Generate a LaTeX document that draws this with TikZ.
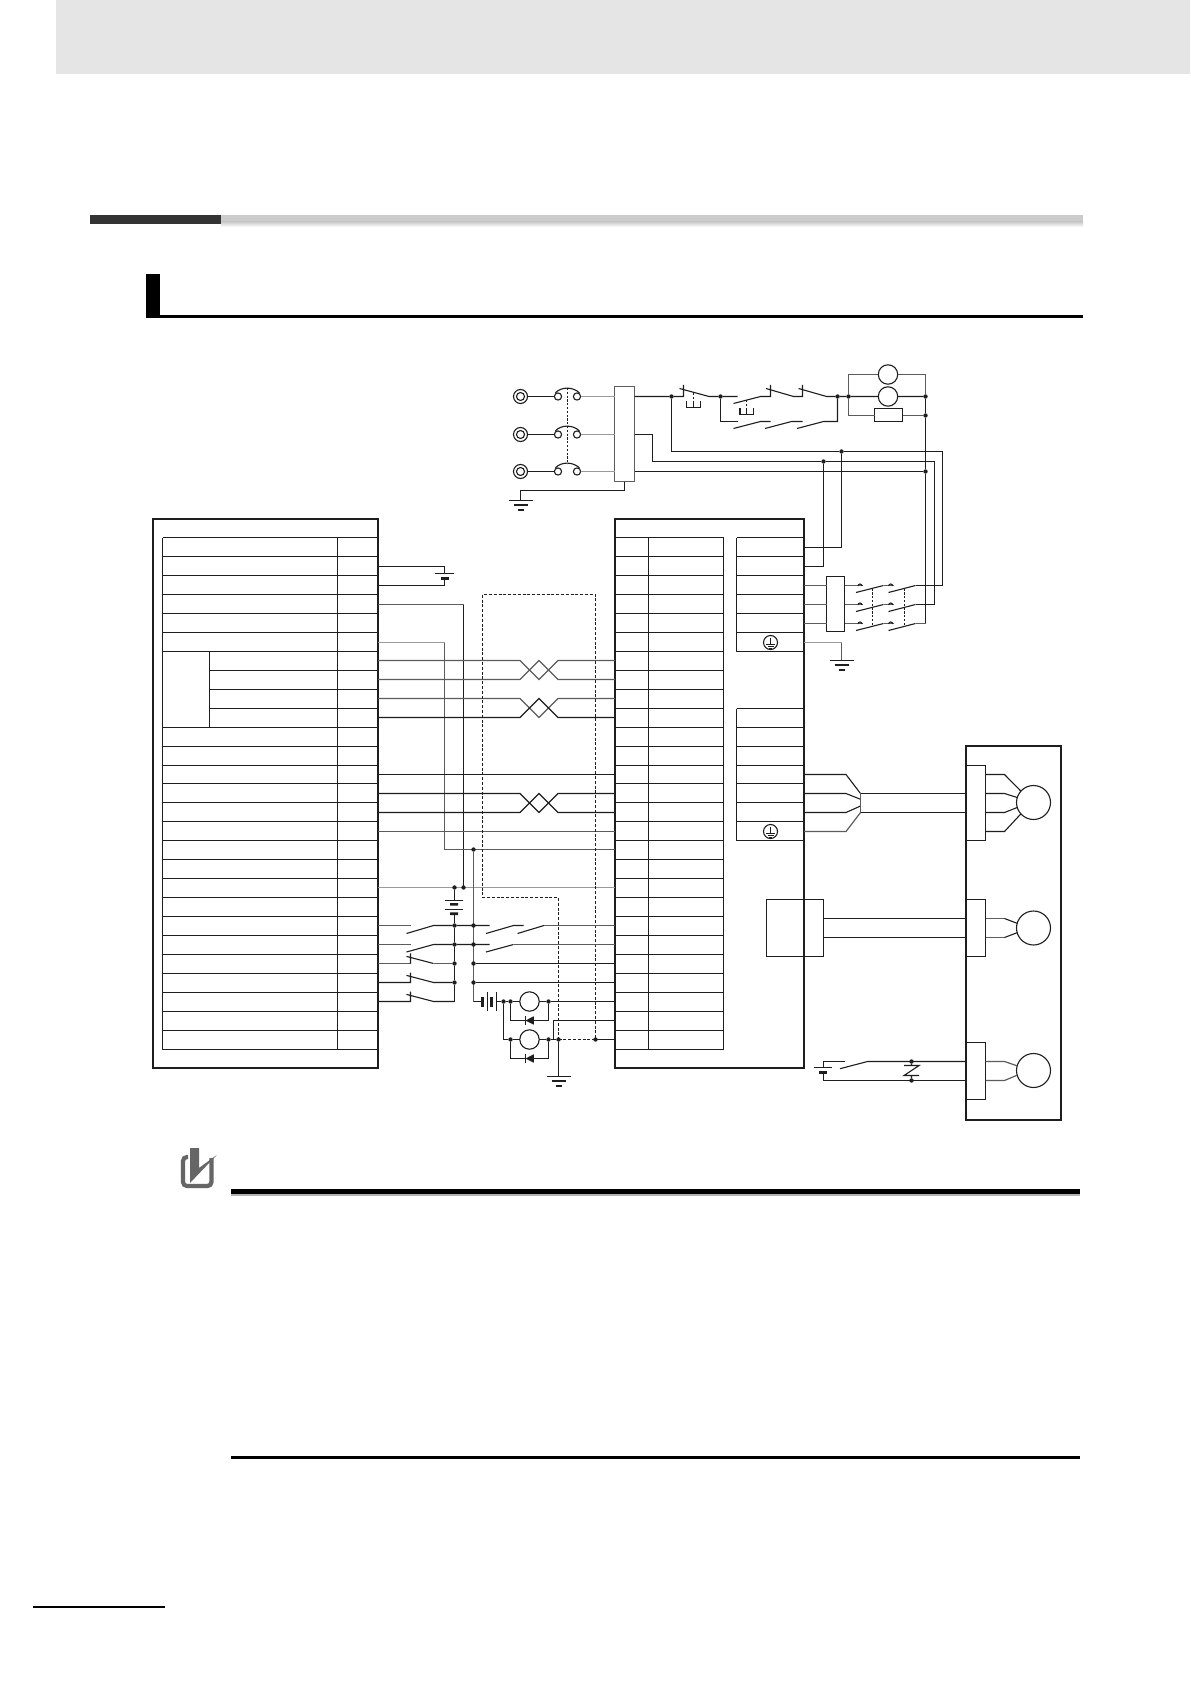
\documentclass[tikz,border=0pt]{standalone}
\usetikzlibrary{calc}
\definecolor{ink}{HTML}{1E1E1E}
\definecolor{greyw}{HTML}{5C5C5C}
\definecolor{greyl}{HTML}{9A9A9A}
\pgfdeclarelayer{fg}
\pgfsetlayers{main,fg}
\tikzset{
  every node/.style={outer sep=0pt},
  wire/.style={line width=0.55pt,draw=ink,line join=miter},
  gw/.style={line width=0.6pt,draw=greyw},
  gl/.style={line width=0.7pt,draw=greyl},
  dashw/.style={line width=0.55pt,draw=ink,dash pattern=on 1.5pt off 0.9pt},
  dashs/.style={line width=0.55pt,draw=ink,dash pattern=on 1.1pt off 0.8pt},
  heavy/.style={line width=1.2pt,draw=ink,inner sep=0pt,anchor=north west},
  tbl/.style={line width=0.55pt,draw=ink},
  dot/.style={circle,fill=ink,inner sep=0pt,minimum size=2.2pt},
  ring/.style={circle,draw=ink,line width=0.55pt,inner sep=0pt,fill=white},
  motor/.style={ring,minimum size=17pt},
  lamp/.style={ring,minimum size=9.7pt},
  bkc/.style={ring,minimum size=3.6pt},
  boxn/.style={draw=ink,line width=0.55pt,fill=white,inner sep=0pt,minimum width=0pt,minimum height=0pt,anchor=north west},
  earthsym/.pic={\draw[wire] (-12,0)--(12,0) (-7,4.5)--(7,4.5) (-3,9.5)--(3,9.5);},
  pesym/.pic={\draw[ink,line width=0.4pt] (0,-5)--(0,1.5) (-4.5,1.5)--(4.5,1.5) (-3,3.5)--(3,3.5) (-1.5,5.5)--(1.5,5.5);},
  diodeL/.pic={\fill[ink] (-4,0)--(4.3,-4.2)--(4.3,4.2)--cycle; \draw[wire] (-4,-4.5)--(-4,4.5);}
}
\begin{document}
\begin{tikzpicture}[x=0.5pt,y=-0.5pt]
\useasboundingbox (0,0) rectangle (1190,1684);
\fill[white] (0,0) rectangle (1190,1684);
% page furniture
\fill[black!10] (56,0) rectangle (1190,74);
\fill[black!80] (90,215) rectangle (221,224);
\fill[black!20] (221,215) rectangle (1083,222);
\shade[top color=black!20,bottom color=white] (221,222) rectangle (1083,227);
\fill[black] (146,274) rectangle (160,318);
\fill[black] (146,315) rectangle (1083,318);
\fill[black] (231,1189) rectangle (1080,1193.5);
\fill[black!30] (231,1194) rectangle (1080,1196);
\fill[black] (231,1456) rectangle (1080,1459);
\fill[black] (32.6,1606) rectangle (164.7,1608);
% icon
\draw[black!60,line width=2.1pt,rounded corners=2pt] (188,1157)--(183,1157)--(183,1186)--(211.5,1186)--(211.5,1158);
\fill[black!60] (190,1148)--(199,1148)--(199,1168)--(216.7,1155)--(190,1183)--cycle;
% rows
\foreach \i/\y in {0/546.5,1/566.5,2/585.5,3/604.5,4/623.5,5/642.5,6/660.5,7/679.5,8/698.5,9/717.5,10/736.5,11/755.5,12/774.5,13/793.5,14/812.5,15/831.5,16/849.5,17/868.5,18/887.5,19/906.5,20/925.5,21/944.5,22/963.5,23/982.5,24/1001.5,25/1020.5,26/1039.5}
 {\coordinate (L\i) at (378,\y); \coordinate (R\i) at (615,\y); \coordinate (S\i) at (804,\y);}
% outer boxes
\node[heavy,minimum width=112.5pt,minimum height=274.5pt] (ctl) at (153,519) {};
\node[heavy,minimum width=94.5pt,minimum height=274.5pt] (drv) at (615,519) {};
\node[heavy,minimum width=47.5pt,minimum height=187pt] (mot) at (966,746) {};
% tables
\foreach \y in {537.5,556.5,575.5,594.5,613.5,632.5,651.5,727.5,746.5,765.5,783.5,802.5,821.5,840.5,859.5,878.5,897.5,916.5,935.5,954.5,973.5,992.5,1011.5,1030.5,1049.5}
  \draw[tbl] (162.5,\y)--(378,\y);
\foreach \y in {670.5,689.5,708.5}
  \draw[tbl] (209.5,\y)--(378,\y);
\draw[tbl] (162.5,537.5)--(162.5,1049.5) (337.5,537.5)--(337.5,1049.5) (209.5,651.5)--(209.5,727.5);
\foreach \y in {537.5,556.5,575.5,594.5,613.5,632.5,651.5,670.5,689.5,708.5,727.5,746.5,765.5,783.5,802.5,821.5,840.5,859.5,878.5,897.5,916.5,935.5,954.5,973.5,992.5,1011.5,1030.5,1049.5}
  \draw[tbl] (615,\y)--(723.5,\y);
\draw[tbl] (648.5,537.5)--(648.5,1049.5) (723.5,537.5)--(723.5,1049.5);
\foreach \y in {537.5,556.5,575.5,594.5,613.5,632.5,651.5,708.5,727.5,746.5,765.5,783.5,802.5,821.5,840.5}
  \draw[tbl] (736.5,\y)--(804,\y);
\draw[tbl] (736.5,537.5)--(736.5,651.5) (736.5,708.5)--(736.5,840.5);
% PE marks
\node[ring,minimum size=7pt] (pe1) at (770.5,642.5) {};
\node[ring,minimum size=7pt] (pe2) at (770.5,831.5) {};
\pic at (770.5,642.5) {pesym};
\pic at (770.5,831.5) {pesym};
% battery on control side
\coordinate (b1t) at (444.5,573.5);
\coordinate (b1b) at (444.5,580);
\draw[wire] (L1)-|(b1t) (L2)-|(b1b);
\draw[wire] (435,573.5)--(454,573.5);
\fill[ink] (441,577)rectangle(449,580);
% long wires
\draw[gw] (L3)--(463.5,604.5);
\draw[wire] (463.5,604.5)--(463.5,887.5);
\draw[gl] (L5)--(444.5,642.5);
\draw[gw] (444.5,642.5)--(444.5,849.5)--(R16);
\draw[gw] (L6)--(520,660.5)--(539,679.5)--(558,660.5)--(R6);
\draw[gw] (L7)--(520,679.5)--(539,660.5)--(558,679.5)--(R7);
\draw[gw] (L8)--(520,698.5)--(539,717.5)--(558,698.5)--(R8);
\draw[wire] (L9)--(520,717.5)--(539,698.5)--(558,717.5)--(R9);
\draw[wire] (L12)--(R12);
\draw[wire] (L13)--(520,793.5)--(539,812.5)--(558,793.5)--(R13);
\draw[wire] (L14)--(520,812.5)--(539,793.5)--(558,812.5)--(R14);
\draw[gw] (L15)--(R15);
\draw[gl] (L18)--(R18);
% dashed shield
\coordinate (sh) at (595.5,1039.5);
\draw[dashw] (558.5,1039.5)--(sh)--(595.5,594.5)--(482.5,594.5)--(482.5,897.5)--(558.5,897.5)--(558.5,1039.5);
\draw[wire] (sh)--(R26);
% junctions on the two rails
\begin{pgfonlayer}{fg}
\node[dot] (ja) at (473.5,849.5) {};
\node[dot] (jb0) at (454.5,887.5) {};
\node[dot] (jb1) at (463.5,887.5) {};
\foreach \n/\y in {20/925.5,21/944.5,22/963.5,23/982.5}{
  \node[dot] (p\n) at (454.5,\y) {};
  \node[dot] (q\n) at (473.5,\y) {};
}
\node[dot] (n1) at (503.5,1001.5) {};
\node[dot] (n2) at (510.5,1001.5) {};
\node[dot] (n3) at (548.5,1001.5) {};
\node[dot] (n4) at (510.5,1039.5) {};
\node[dot] (n5) at (548.5,1039.5) {};
\node[dot] (n6) at (558.5,1039.5) {};
\node[dot] (n7) at (595.5,1039.5) {};
\node[dot] (d1) at (671.5,396.5) {};
\node[dot] (d2) at (720.5,396.5) {};
\node[dot] (d3) at (837.5,396.5) {};
\node[dot] (d4) at (848.5,396.5) {};
\node[dot] (d5) at (925.5,396.5) {};
\node[dot] (d6) at (925.5,415.5) {};
\node[dot] (d7) at (925.5,471.5) {};
\node[dot] (d8) at (841.5,451.5) {};
\node[dot] (d9) at (823.5,461.5) {};
\node[dot] (v1) at (911.5,1061.5) {};
\node[dot] (v2) at (911.5,1080.5) {};
\end{pgfonlayer}
\draw[gw] (ja)--(473.5,1001.5);
\draw[wire] (454.5,913.7)--(p20)--(p21)--(p22)--(p23)--(454.5,1001.5);
\draw[wire] (jb0)--(454.5,900);
\draw[wire] (445,900.5)--(463,900.5) (445,909.5)--(463,909.5);
\fill[ink] (450,903)rectangle(458,905.6) (450,912.4)rectangle(458,915);
% left contacts
\draw[gw] (L20)--(410.5,925.5);
\draw[wire] (406.5,933.5)--(433.5,925.5)--(p20);
\draw[gw] (L21)--(410.5,944.5);
\draw[wire] (406.5,952)--(433.5,944.5)--(p21);
\draw[gw] (L22)--(410.5,963.5);
\draw[wire] (410.5,953.4)--(410.5,963.5) (406.5,956.4)--(433.5,963.5);
\draw[gw] (433.5,963.5)--(p22);
\draw[wire] (L23)--(410.5,982.5)--(410.5,972.5) (406.5,975.4)--(433.5,982.5)--(p23);
\draw[wire] (L24)--(410.5,1001.5)--(410.5,991.5) (406.5,994.4)--(433.5,1001.5)--(454.5,1001.5);
% right contacts
\draw[wire] (p20)--(489.5,925.5) (486,933.5)--(513.5,925.5)--(523.5,925.5) (517.5,933.5)--(544,925.5);
\draw[gw] (544,925.5)--(R20);
\draw[wire] (p21)--(489.5,944.5) (486,952)--(513.5,944.5);
\draw[gw] (513.5,944.5)--(R21);
\draw[wire] (q22)--(R22) (q23)--(R23);
% battery and relays
\node[lamp] (rly1) at (529.5,1001.5) {};
\node[lamp] (rly2) at (529.5,1039.5) {};
\draw[wire] (473.5,1001.5)--(482.5,1001.5);
\draw[line width=1.2pt,ink] (482.5,996.5)--(482.5,1006.5) (491.5,996.5)--(491.5,1006.5);
\draw[wire] (487.5,992)--(487.5,1011) (496.5,992)--(496.5,1011);
\draw[wire] (496.5,1001.5)--(n1)--(n2)--(rly1) (rly1)--(n3)--(R24);
\draw[wire] (n1)|-(n4)--(rly2) (rly2)--(n5)--(n6);
\draw[wire] (553.5,1039.5)|-(R25);
\draw[wire] (n2)|-(548.5,1020.5)--(n3);
\draw[wire] (n4)|-(548.5,1058.5)--(n5);
\pic at (529.5,1020.5) {diodeL};
\pic at (529.5,1058.5) {diodeL};
\draw[wire] (n6)--(558.5,1076.5);
\pic at (558.5,1076.5) {earthsym};
% mains
\foreach \n/\y in {a/396.5,b/434.5,c/471.5}{
  \node[ring,minimum size=7pt] (t\n) at (520.5,\y) {};
  \node[ring,minimum size=4pt] at (520.5,\y) {};
  \node[bkc] (k\n) at (558,\y) {};
  \node[bkc] (m\n) at (577,\y) {};
  \draw[wire] (t\n)--(k\n);
  \draw[wire] (555.3,\y-3.5) .. controls (561,\y-10) and (573,\y-10) .. (579.5,\y-3.5);
}
\draw[dashs] (567.5,388)--(567.5,464);
\node[boxn,draw=greyw,line width=0.75pt,minimum width=10pt,minimum height=47.5pt] (nf) at (614.5,386.5) {};
\coordinate (nfa) at (634.5,396.5); \coordinate (nfb) at (634.5,434.5); \coordinate (nfc) at (634.5,471.5);
\draw[gl] (ma)--(614.5,396.5) (mb)--(614.5,434.5) (mc)--(614.5,471.5);
\coordinate (g1) at (520.5,500.5);
\draw[wire] (624.5,481.5)--(624.5,490.5)-|(g1);
\pic at (g1) {earthsym};
% contactor chain
\node[lamp] (l1) at (888,374.5) {};
\node[lamp] (l2) at (888,396.5) {};
\node[boxn,minimum width=14pt,minimum height=6.5pt] (rs) at (874.5,408.5) {};
\draw[wire] (nfa)--(d1)--(683.5,396.5)--(683.5,385) (679.5,388.5)--(709,396.5)--(d2)--(737.5,396.5);
\draw[dashs] (693.5,393.3)--(693.5,401);
\draw[wire] (693.5,401)--(693.5,407.5) (686.5,401)--(686.5,407.5)--(700.5,407.5)--(700.5,401);
\draw[dashs] (746.5,400)--(746.5,408);
\draw[wire] (746.5,408)--(746.5,414.5) (740,408.3)--(740,414.5)--(753.5,414.5)--(753.5,408.3);
\draw[wire] (733.5,403.5)--(760.5,396.5)--(770.5,396.5)--(770.5,385) (766,388.5)--(793.5,396.5)--(802.5,396.5)--(802.5,385) (798.5,388.5)--(826.5,396.5)--(d3)--(d4)--(l2)--(d5);
\draw[wire] (d2)|-(737.5,421.5);
\draw[wire] (733.5,428.5)--(760.5,421.5)--(770.5,421.5) (765,428.5)--(791.5,421.5)--(802.5,421.5) (797,428.5)--(823.5,421.5)--(837.5,421.5)--(d3);
\draw[gw] (d4)|-(l1) (l1)-|(d5);
\draw[gw] (d4)|-(874.5,415.5) (902.5,415.5)--(d6);
\draw[wire] (d5)--(d6)--(d7)--(925.5,623.5);
% feed lines
\draw[wire] (d1)|-(d8) (d8)-|(942.5,585.5)--(915.5,585.5);
\draw[wire] (nfb)-|(652.5,461.5)--(d9)--(934.5,461.5)--(934.5,604.5)--(915.5,604.5);
\draw[wire] (nfc)--(d7);
\draw[wire] (d8)--(841.5,547.5)--(804,547.5);
\draw[wire] (d9)--(823.5,566.5)--(S1);
% output contactor
\node[boxn,minimum width=9pt,minimum height=27.5pt] (nf2) at (826.5,576.5) {};
\draw[gw] (804,585.5)--(826.5,585.5) (804,604.5)--(826.5,604.5) (804,623.5)--(826.5,623.5);
\foreach \y in {585.5,604.5,623.5}{
  \draw[gw] (844.5,\y)--(862.5,\y);
  \draw[wire] (856,\y+7)--(883.5,\y);
  \draw[gw] (883.5,\y)--(893.5,\y);
  \draw[wire] (888.5,\y+7)--(915.5,\y);
  \draw[wire] (858,\y+0.5) arc[start angle=180,end angle=360,radius=2];
  \draw[wire] (888.7,\y+0.5) arc[start angle=180,end angle=360,radius=2];
}
\draw[gw] (915.5,623.5)--(925.5,623.5);
\draw[dashs] (872.5,588.5)--(872.5,626) (904.5,588.5)--(904.5,626);
\draw[gl] (S5)--(841.5,642.5);
\draw[gw] (841.5,642.5)--(841.5,660.5);
\pic at (841.5,660.5) {earthsym};
% servo motor
\node[boxn,minimum width=9.75pt,minimum height=37.5pt] (cn1) at (966,765.5) {};
\node[boxn,minimum width=9.75pt,minimum height=28.5pt] (cn2) at (966,899.5) {};
\node[boxn,minimum width=9.75pt,minimum height=28.5pt] (cn3) at (966,1042.5) {};
\node[motor] (M1) at (1033.5,802.5) {};
\node[motor] (M2) at (1033.5,928) {};
\node[motor] (M3) at (1033.5,1070.5) {};
\draw[wire] (S12)--(846,774.5)--(860.5,793.5);
\draw[wire] (S13)--(846,793.5)--(860.5,799.3);
\draw[wire] (S14)--(846,812.5)--(860.5,806);
\draw[gw] (S15)--(846,831.5)--(860.5,812.5);
\draw[gw] (860.5,793.5)--(860.5,812.5);
\draw[wire] (860.5,793.5)--(966,793.5) (860.5,812.5)--(966,812.5);
\draw[wire] (985.5,774.5)--(1004.5,774.5)--(M1.138);
\draw[wire] (985.5,793.5)--(1004.5,793.5)--(M1.163);
\draw[wire] (985.5,812.5)--(1004.5,812.5)--(M1.197);
\draw[wire] (985.5,831.5)--(1004.5,831.5)--(M1.222);
% encoder
\node[boxn,fill=none,minimum width=28.5pt,minimum height=28.5pt] (enc) at (766.5,899.5) {};
\draw[wire] (823.5,918.5)--(966,918.5) (823.5,937.5)--(966,937.5);
\draw[gw] (985.5,918.5)--(1004.5,918.5);
\draw[wire] (1004.5,918.5)--(M2.164);
\draw[gw] (985.5,937.5)--(1004.5,937.5);
\draw[wire] (1004.5,937.5)--(M2.196);
% brake
\draw[wire] (966,1061.5)--(867.5,1061.5)--(840,1068.7);
\draw[wire] (845,1061.5)-|(823.5,1067.5);
\draw[wire] (814,1067.5)--(832,1067.5);
\fill[ink] (819,1071)rectangle(827,1074);
\draw[wire] (823.5,1074)--(823.5,1080.5)--(966,1080.5);
\draw[wire] (v1)--(911.5,1065.5) (v2)--(911.5,1075.5) (904,1065.5)--(919,1065.5)--(904,1075.5)--(919,1075.5);
\draw[gw] (985.5,1061.5)--(1004.5,1061.5)--(M3.164) (985.5,1080.5)--(1004.5,1080.5)--(M3.196);
\end{tikzpicture}
\end{document}
